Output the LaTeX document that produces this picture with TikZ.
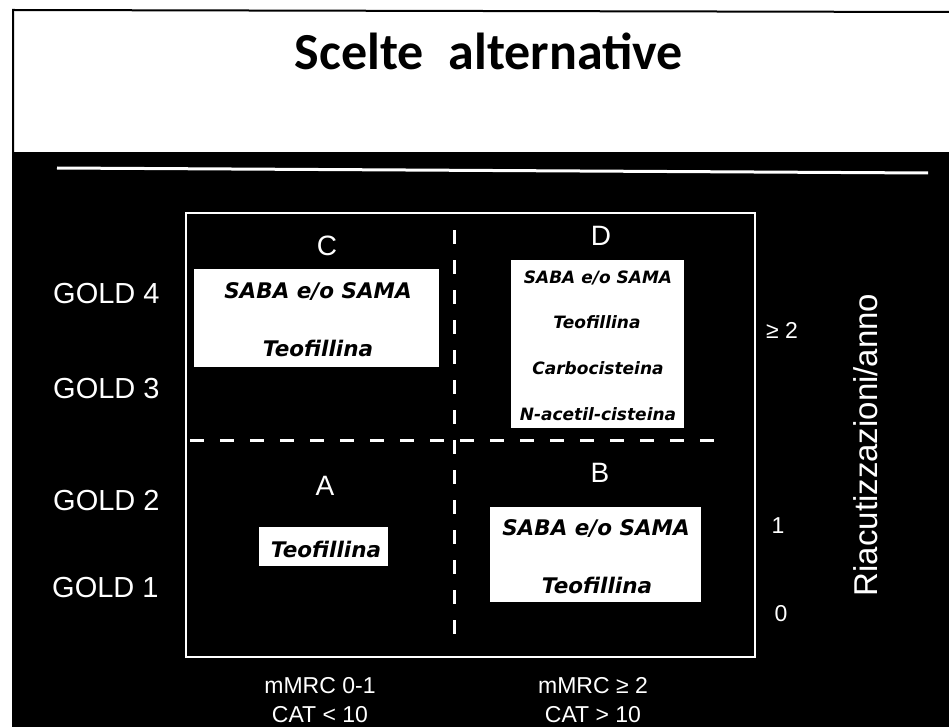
\documentclass[tikz,border=0pt]{standalone}
\usepackage{fontspec}
\setmainfont{Liberation Sans}
\newfontfamily\titlefont{Carlito}
\newfontfamily\boxfont{DejaVu Sans Bold Oblique}
\begin{document}
\begin{tikzpicture}[x=1pt,y=-1pt,
  lab/.style={text=white,inner sep=0pt,anchor=base,font=\fontsize{23}{25}\selectfont},
  goldlab/.style={text=white,inner sep=0pt,anchor=base west,font=\fontsize{29}{31}\selectfont},
  letterlab/.style={text=white,inner sep=0pt,anchor=base,font=\fontsize{28}{30}\selectfont},
  wbox/.style={fill=white,draw=none,inner sep=0pt},
  btext/.style={text=black,inner sep=0pt,anchor=base,font=\boxfont\fontsize{21.5}{23}\selectfont},
  dtext/.style={btext,font=\boxfont\fontsize{17}{18}\selectfont},
  gridline/.style={white,line width=2pt},
  divline/.style={white,line width=3pt,dash pattern=on 14pt off 16pt}]
\useasboundingbox (0,0) rectangle (949,727);
\fill[white] (0,0) rectangle (949,727);
% header frame
\fill[black] (12,152) rectangle (949,727);
\draw[black,line width=2pt] (13,152) -- (13,10) -- (949,12);
\node[inner sep=0pt,anchor=base,font=\titlefont\bfseries\fontsize{52}{54}\selectfont] (title) at (489,70) {Scelte\hspace{0.48em}alternative};
\draw[white,line width=3pt] (57,168) -- (928,173);
% grid
\draw[gridline] (186,213) rectangle (755,657);
\draw[divline] (454,230) -- (454,642);
\draw[divline] (190,440) -- (728,440);
% quadrant letters
\node[letterlab] (lc) at (327,255) {C};
\node[letterlab] (ld) at (601,245) {D};
\node[letterlab] (la) at (325,495) {A};
\node[letterlab] (lb) at (600,482) {B};
% C box
\node[wbox,minimum width=245pt,minimum height=98pt] (cbox) at (316.5,318) {};
\node[btext] (c1) at (318,298) {SABA e/o SAMA};
\node[btext] (c2) at (318,356) {Teofillina};
% D box
\node[wbox,minimum width=173pt,minimum height=168pt] (dbox) at (597.5,344) {};
\node[dtext] (d1) at (598,283) {SABA e/o SAMA};
\node[dtext] (d2) at (597,328) {Teofillina};
\node[dtext] (d3) at (598,374) {Carbocisteina};
\node[dtext] (d4) at (598,420) {N-acetil-cisteina};
% A box
\node[wbox,minimum width=129pt,minimum height=39pt] (abox) at (323.5,546.5) {};
\node[btext] (a1) at (326,557) {Teofillina};
% B box
\node[wbox,minimum width=211pt,minimum height=95pt] (bbox) at (595.5,554.5) {};
\node[btext] (b1) at (596,535) {SABA e/o SAMA};
\node[btext] (b2) at (597,593) {Teofillina};
% GOLD labels
\node[goldlab] (g4) at (53,303) {GOLD 4};
\node[goldlab] (g3) at (53,398) {GOLD 3};
\node[goldlab] (g2) at (53,510) {GOLD 2};
\node[goldlab] (g1) at (52,597) {GOLD 1};
% right axis
\node[lab,anchor=base west] (r2) at (766,338) {≥ 2};
\node[lab] (r1) at (778,533) {1};
\node[lab] (r0) at (781,621) {0};
\node[text=white,inner sep=0pt,anchor=base,rotate=90,font=\fontsize{33}{35}\selectfont] (ra) at (877,445) {Riacutizzazioni/anno};
% bottom labels
\node[lab] (m1) at (320,693) {mMRC 0-1};
\node[lab] (m2) at (320,722) {CAT < 10};
\node[lab] (m3) at (593,693) {mMRC ≥ 2};
\node[lab] (m4) at (593,722) {CAT > 10};
\end{tikzpicture}
\end{document}
